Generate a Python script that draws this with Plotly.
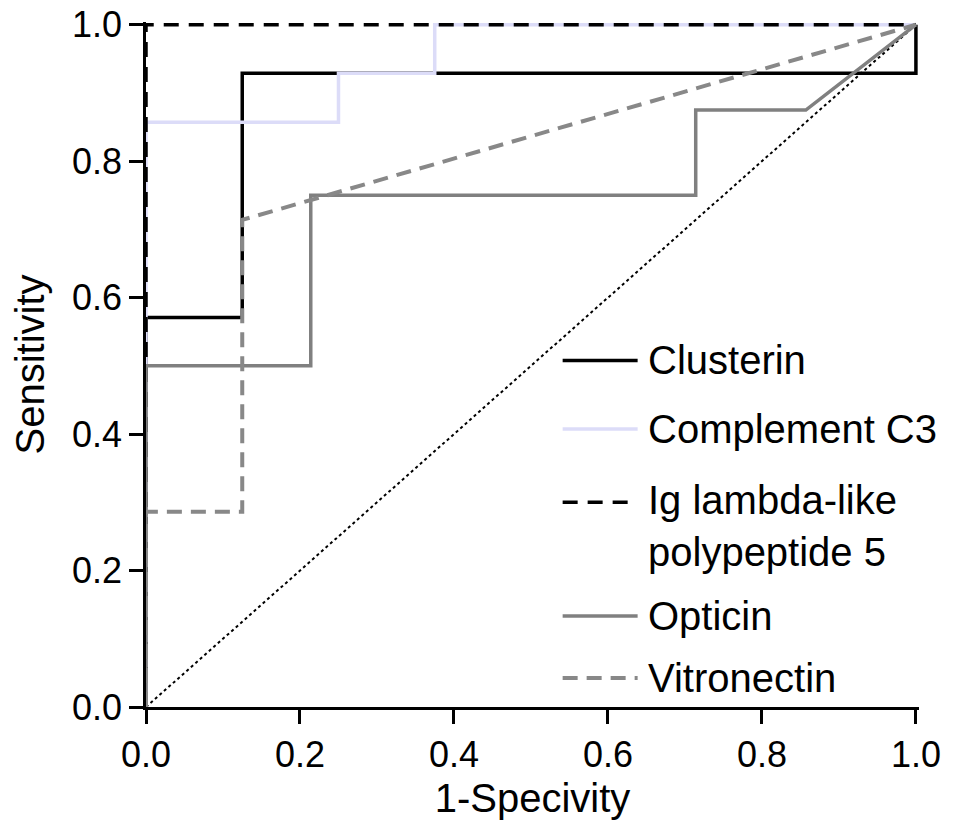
import plotly.graph_objects as go

# ROC curves (x = 1-Specificity, y = Sensitivity)
clusterin_x = [0, 0, 0.125, 0.125, 1, 1]
clusterin_y = [0, 0.571, 0.571, 0.929, 0.929, 1]

complement_x = [0, 0, 0.25, 0.25, 0.375, 0.375, 1]
complement_y = [0, 0.857, 0.857, 0.929, 0.929, 1, 1]

iglambda_x = [0, 0, 1]
iglambda_y = [0, 1, 1]

opticin_x = [0, 0, 0.214, 0.214, 0.714, 0.714, 0.857, 1]
opticin_y = [0, 0.5, 0.5, 0.75, 0.75, 0.875, 0.875, 1]

vitronectin_x = [0, 0, 0.125, 0.125, 1]
vitronectin_y = [0, 0.286, 0.286, 0.714, 1]

reference_x = [0, 1]
reference_y = [0, 1]

series_names = ["Clusterin", "Complement C3", "Ig lambda-like<br>polypeptide 5", "Opticin", "Vitronectin"]
x_ticks = [0.0, 0.2, 0.4, 0.6, 0.8, 1.0]
y_ticks = [0.0, 0.2, 0.4, 0.6, 0.8, 1.0]

FONT = "Liberation Sans, Arial, sans-serif"

styles = [
    dict(color="#000000", width=3.5, dash="solid"),
    dict(color="#dcdcf8", width=3.5, dash="solid"),
    dict(color="#000000", width=3.5, dash="15px,10px"),
    dict(color="#808080", width=3.5, dash="solid"),
    dict(color="#888888", width=4, dash="15px,9px"),
]
xs = [clusterin_x, complement_x, iglambda_x, opticin_x, vitronectin_x]
ys = [clusterin_y, complement_y, iglambda_y, opticin_y, vitronectin_y]

fig = go.Figure()
fig.add_trace(go.Scatter(x=reference_x, y=reference_y, mode="lines",
                         line=dict(color="#000000", width=2, dash="3px,3px"),
                         showlegend=False, hoverinfo="skip"))
for name, x, y, st in zip(series_names, xs, ys, styles):
    fig.add_trace(go.Scatter(x=x, y=y, mode="lines", name=name.replace("<br>", " "), line=st,
                             showlegend=False))

# manual legend
leg_y = [0.506, 0.406, 0.299, 0.133, 0.0425]
text_y = [0.506, 0.406, 0.264, 0.133, 0.0425]
shapes = []
annotations = []
for name, st, ly, ty in zip(series_names, styles, leg_y, text_y):
    shapes.append(dict(type="line", xref="paper", yref="paper",
                       x0=0.539, x1=0.636, y0=ly, y1=ly,
                       line=dict(color=st["color"], width=st["width"], dash=st["dash"])))
    annotations.append(dict(xref="paper", yref="paper", x=0.647, y=ty,
                            text=name, showarrow=False, xanchor="left", yanchor="middle",
                            align="left", font=dict(family=FONT, size=40, color="#000000")))

# x: 0 -> 146px, 1 -> 916px ; y: 0 -> 707px, 1 -> 25px
XMAX = 1.004
YMAX = 1.004
plot_w = 770 * XMAX
plot_h = 682 * YMAX
fig.update_layout(
    width=958, height=824,
    margin=dict(l=146, r=958 - 146 - plot_w, t=707 - plot_h, b=117),
    paper_bgcolor="white", plot_bgcolor="white",
    font=dict(family=FONT, color="#000000"),
    shapes=shapes, annotations=annotations,
    showlegend=False,
)
fig.update_xaxes(range=[0, XMAX], tickvals=x_ticks, ticktext=[f"{v:.1f}" for v in x_ticks],
                 showgrid=False, zeroline=False, showline=True, linecolor="#000000", linewidth=2.5,
                 ticks="outside", ticklen=14, tickwidth=2.5, tickcolor="#000000",
                 tickfont=dict(size=36, family=FONT), automargin=False,
                 title=dict(text="1-Specivity", font=dict(size=40, family=FONT), standoff=11))
fig.update_yaxes(range=[0, YMAX], tickvals=y_ticks, ticktext=[f"{v:.1f}" for v in y_ticks],
                 showgrid=False, zeroline=False, showline=True, linecolor="#000000", linewidth=2.5,
                 ticks="outside", ticklen=14, tickwidth=2.5, tickcolor="#000000",
                 tickfont=dict(size=36, family=FONT), automargin=False,
                 title=dict(text="Sensitivity", font=dict(size=40, family=FONT), standoff=16))

fig.write_html("out.html")
